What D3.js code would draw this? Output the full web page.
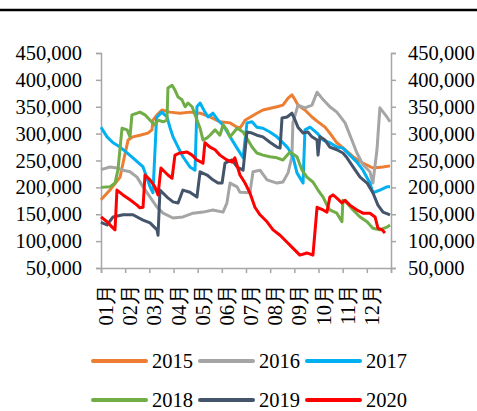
<!DOCTYPE html>
<html lang="zh">
<head>
  <meta charset="UTF-8">
  <title>库存季节性</title>
  <script src="https://d3js.org/d3.v7.min.js"></script>
  <style>
    body { margin: 0; background: #fff; }
    svg { display: block; }
    text { font-family: "Liberation Serif", "Times New Roman", serif; fill: #000; }
  </style>
</head>
<body>
  <svg id="chart" width="477" height="411"></svg>
  <script>
    // month labels (tick at start of each month)
    const months = ["01月", "02月", "03月", "04月", "05月", "06月", "07月", "08月", "09月", "10月", "11月", "12月"];
    const years = ["2015", "2016", "2017", "2018", "2019", "2020"];
    const colors = ["#ED7D31", "#A5A5A5", "#00B0F0", "#70AD47", "#44546A", "#FF0000"];
    const yTicks = [50000, 100000, 150000, 200000, 250000, 300000, 350000, 400000, 450000];

    // [month position, value in thousands]
    const s2015 = [[0,177],[0.37,195],[0.79,219],[0.91,245],[1.12,288],[1.32,294],[1.61,297],[1.94,301],[2.11,307],[2.15,325],[2.32,335],[2.52,344],[2.85,340],[3.27,338],[3.68,340],[4.1,338],[4.51,331],[4.92,322],[5.34,320],[5.63,312],[5.75,310],[5.96,325],[6.45,338],[6.7,344],[7.28,350],[7.53,353],[7.74,366],[7.9,372],[8.03,363],[8.15,353],[8.44,344],[8.73,331],[8.98,322],[9.27,312],[9.47,301],[9.76,283],[10.1,270],[10.43,257],[10.84,245],[11.25,236],[11.67,238],[11.96,240]];
    const s2016 = [[0,233],[0.37,238],[0.66,236],[0.91,232],[1.2,229],[1.49,219],[1.74,201],[2.03,182],[2.32,163],[2.57,152],[2.98,143],[3.39,145],[3.81,152],[4.22,154],[4.63,158],[5.05,154],[5.21,171],[5.34,208],[5.63,201],[5.75,191],[6.16,190],[6.29,229],[6.58,232],[6.87,214],[7.28,208],[7.53,210],[7.74,227],[7.9,257],[7.94,320],[8.15,353],[8.44,348],[8.73,353],[8.94,377],[9.14,366],[9.47,350],[9.76,340],[10.1,320],[10.38,288],[10.59,264],[10.84,242],[11.13,229],[11.25,208],[11.42,270],[11.54,348],[11.83,331],[11.96,322]];
    const s2017 = [[0,312],[0.25,294],[0.5,283],[0.79,275],[1.08,264],[1.32,255],[1.74,238],[2.03,201],[2.15,190],[2.3,330],[2.52,340],[2.73,331],[2.85,312],[2.98,294],[3.19,275],[3.39,257],[3.68,238],[3.89,232],[3.97,350],[4.1,357],[4.3,340],[4.43,331],[4.63,338],[4.84,325],[5.05,316],[5.34,294],[5.63,273],[5.88,255],[6.04,320],[6.25,322],[6.45,312],[6.7,310],[6.99,303],[7.28,294],[7.53,283],[7.74,273],[7.94,257],[8.11,227],[8.36,208],[8.44,307],[8.65,312],[8.94,301],[9.19,288],[9.47,283],[9.76,275],[10.01,273],[10.3,260],[10.59,247],[10.84,232],[11.13,208],[11.25,190],[11.54,195],[11.83,201],[11.96,201]];
    const s2018 = [[0,200],[0.37,201],[0.58,208],[0.7,232],[0.87,310],[1.08,307],[1.2,294],[1.28,335],[1.49,338],[1.61,340],[1.82,335],[2.03,325],[2.23,316],[2.36,325],[2.57,322],[2.73,325],[2.77,385],[2.94,390],[3.06,381],[3.19,368],[3.35,363],[3.48,350],[3.6,357],[3.77,350],[3.89,335],[4.1,310],[4.22,288],[4.39,292],[4.51,297],[4.72,307],[4.92,297],[5.05,316],[5.21,307],[5.34,294],[5.63,310],[5.88,303],[6.08,288],[6.25,275],[6.45,264],[6.7,260],[6.99,257],[7.28,255],[7.53,251],[7.82,266],[8.11,257],[8.32,232],[8.52,219],[8.77,210],[8.98,195],[9.19,182],[9.35,167],[9.47,158],[9.76,152],[9.97,136],[10.01,176],[10.18,171],[10.43,158],[10.72,145],[11.01,136],[11.25,124],[11.54,121],[11.83,126],[11.96,130]];
    const s2019 = [[0,135],[0.25,130],[0.5,145],[0.91,149],[1.32,149],[1.74,139],[2.03,134],[2.32,121],[2.36,111],[2.44,195],[2.73,182],[2.98,173],[3.19,171],[3.39,195],[3.68,191],[3.97,182],[4.1,229],[4.39,223],[4.63,214],[4.84,208],[5.01,208],[5.13,245],[5.42,251],[5.63,238],[5.88,232],[6.04,303],[6.25,301],[6.45,297],[6.7,294],[6.99,284],[7.28,275],[7.41,273],[7.49,329],[7.7,331],[7.9,338],[8.03,325],[8.15,312],[8.36,301],[8.56,303],[8.73,294],[8.94,288],[8.98,260],[9.06,294],[9.27,288],[9.47,275],[9.76,270],[10.01,264],[10.18,255],[10.43,238],[10.72,219],[11.01,208],[11.25,190],[11.46,167],[11.67,154],[11.96,149]];
    const s2020 = [[0,145],[0.25,136],[0.46,126],[0.58,121],[0.66,195],[0.91,186],[1.2,177],[1.49,167],[1.61,162],[1.74,163],[1.82,223],[2.03,214],[2.23,201],[2.36,186],[2.48,236],[2.77,223],[2.94,217],[3.06,260],[3.27,264],[3.56,266],[3.77,260],[3.97,251],[4.22,245],[4.3,283],[4.51,275],[4.72,270],[4.92,260],[5.21,251],[5.42,247],[5.54,255],[5.75,223],[5.96,208],[6.16,190],[6.37,163],[6.58,149],[6.87,136],[7.12,121],[7.41,111],[7.7,98],[7.94,87],[8.23,74],[8.52,78],[8.77,74],[8.94,163],[9.19,158],[9.35,154],[9.47,182],[9.6,186],[9.76,180],[9.97,171],[10.1,176],[10.3,167],[10.59,158],[10.84,152],[11.13,152],[11.34,145],[11.46,124],[11.63,121],[11.75,115]];
    const seriesData = [s2015, s2016, s2017, s2018, s2019, s2020];

    const svg = d3.select("#chart");
    const plotLeft = 101, plotRight = 391, plotTop = 53, plotBottom = 268;
    const axisColor = "#a6a6a6";
    const fontSize = "20.5px";

    // header rule (title is cropped off above)
    svg.append("line")
      .attr("x1", 0).attr("x2", 477).attr("y1", 10).attr("y2", 10)
      .attr("stroke", "#000").attr("stroke-width", 2.5);

    const x = d3.scaleLinear().domain([0, 12]).range([plotLeft, plotRight]);
    const y = d3.scaleLinear().domain([50000, 450000]).range([plotBottom, plotTop]);

    // left axis
    const gl = svg.append("g").attr("transform", `translate(${plotLeft},0)`)
      .call(d3.axisLeft(y).tickValues(yTicks).tickFormat(d3.format(",")).tickSize(5).tickPadding(14));
    // right axis
    const gr = svg.append("g").attr("transform", `translate(${plotRight},0)`)
      .call(d3.axisRight(y).tickValues(yTicks).tickFormat(d3.format(",")).tickSize(5).tickPadding(12));
    // bottom axis
    const gb = svg.append("g").attr("transform", `translate(0,${plotBottom})`)
      .call(d3.axisBottom(x).tickValues(d3.range(0, 13)).tickSize(5).tickFormat(""));

    [gl, gr, gb].forEach(g => {
      g.select(".domain").attr("stroke", axisColor).attr("stroke-width", 1.5);
      g.selectAll(".tick line").attr("stroke", axisColor).attr("stroke-width", 1.5);
      g.selectAll("text").attr("font-family", "'Liberation Serif', serif").attr("font-size", fontSize).attr("fill", "#000");
    });

    // month labels, rotated
    svg.append("g").selectAll("text")
      .data(months)
      .enter().append("text")
      .attr("transform", (d, i) => `translate(${x(i) + 12},284) rotate(-90)`)
      .attr("text-anchor", "end")
      .style("font-size", fontSize)
      .text(d => d);

    // lines
    const line = d3.line()
      .x(d => x(d[0]))
      .y(d => y(d[1] * 1000));

    svg.append("g").selectAll("path")
      .data(seriesData)
      .enter().append("path")
      .attr("fill", "none")
      .attr("stroke", (d, i) => colors[i])
      .attr("stroke-width", 3)
      .attr("stroke-linejoin", "round")
      .attr("d", line);

    // legend
    const legendX = [93, 200, 307];
    const legendY = [361, 400];
    const lg = svg.append("g").selectAll("g")
      .data(years)
      .enter().append("g")
      .attr("transform", (d, i) => `translate(${legendX[i % 3]},${legendY[Math.floor(i / 3)]})`);
    lg.append("line")
      .attr("x1", 0).attr("x2", 53).attr("y1", 0).attr("y2", 0)
      .attr("stroke", (d, i) => colors[i])
      .attr("stroke-width", 4)
      .attr("stroke-linecap", "round");
    lg.append("text")
      .attr("x", 59).attr("y", 0).attr("dy", "0.34em")
      .style("font-size", fontSize)
      .text(d => d);
  </script>
</body>
</html>
